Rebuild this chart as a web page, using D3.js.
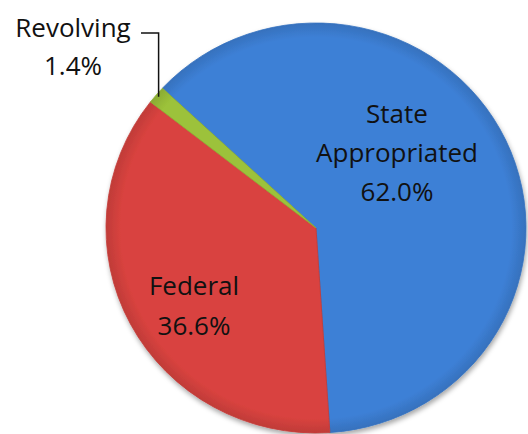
<!DOCTYPE html>
<html>
<head>
<meta charset="utf-8">
<script src="https://cdn.jsdelivr.net/npm/d3@7"></script>
<style>
  html, body { margin: 0; padding: 0; background: #fff; }
  svg { display: block; }
</style>
</head>
<body>
<div id="chart"></div>
<script>
var categories = ["State Appropriated", "Federal", "Revolving"];
var values = [62.0, 36.6, 1.4];
var labelLines = [["State", "Appropriated", "62.0%"], ["Federal", "36.6%"], ["Revolving", "1.4%"]];
var colors = ["#3d80d6", "#d9433f", "#9cc23a"];

var width = 528, height = 434;
var cx = 316, cy = 228, radius = 205, stretchX = 210 / 205;

var svg = d3.select("#chart").append("svg")
    .attr("width", width)
    .attr("height", height);

var defs = svg.append("defs");

var shadow = defs.append("filter")
    .attr("id", "shadow")
    .attr("x", "-10%").attr("y", "-10%")
    .attr("width", "120%").attr("height", "120%");
shadow.append("feDropShadow")
    .attr("dx", 1).attr("dy", 3)
    .attr("stdDeviation", 2.5)
    .attr("flood-color", "#000")
    .attr("flood-opacity", 0.35);

// soft bevel-like shading per slice
colors.forEach(function (c, i) {
    var g = defs.append("radialGradient")
        .attr("id", "grad" + i)
        .attr("gradientUnits", "userSpaceOnUse")
        .attr("cx", 0).attr("cy", 0).attr("r", radius);
    g.append("stop").attr("offset", "0%").attr("stop-color", c);
    g.append("stop").attr("offset", "93%").attr("stop-color", c);
    g.append("stop").attr("offset", "100%").attr("stop-color", d3.color(c).darker(0.35));
});

var startDeg = -47;
var pie = d3.pie()
    .sort(null)
    .value(function (d) { return d; })
    .startAngle(startDeg * Math.PI / 180)
    .endAngle((startDeg + 360) * Math.PI / 180);

var arc = d3.arc()
    .innerRadius(0)
    .outerRadius(radius);

var g = svg.append("g")
    .attr("transform", "translate(" + cx + "," + cy + ") scale(" + stretchX + ",1)");

g.append("g")
    .attr("filter", "url(#shadow)")
    .selectAll("path")
    .data(pie(values))
    .enter()
    .append("path")
    .attr("d", arc)
    .attr("fill", function (d, i) { return "url(#grad" + i + ")"; })
    .attr("stroke", function (d, i) { return d3.color(colors[i]).darker(0.3); })
    .attr("stroke-width", 0.8)
    .attr("stroke-linejoin", "round");

// label positions (page coords of first baseline) and line spacing
var labelPos = [
    { x: 397, y: 123, dy: 39 },
    { x: 194, y: 295, dy: 40 },
    { x: 73, y: 37, dy: 38 }
];

var labels = svg.append("g")
    .attr("font-family", "'Open Sans', 'Noto Sans', sans-serif")
    .attr("font-size", "26px")
    .attr("fill", "#111")
    .attr("text-anchor", "middle");

labelLines.forEach(function (lines, i) {
    var t = labels.append("text")
        .attr("x", labelPos[i].x)
        .attr("y", labelPos[i].y);
    lines.forEach(function (line, j) {
        t.append("tspan")
            .attr("x", labelPos[i].x)
            .attr("dy", j === 0 ? 0 : labelPos[i].dy)
            .text(line);
    });
});

// leader line for the small slice
var small = pie(values)[2];
var mid = (small.startAngle + small.endAngle) / 2;
var edge = [cx + Math.sin(mid) * (radius - 3) * stretchX, cy - Math.cos(mid) * (radius - 3)];
svg.append("path")
    .attr("d", d3.line()([[141, 33], [edge[0], 33], edge]))
    .attr("fill", "none")
    .attr("stroke", "#111")
    .attr("stroke-width", 1.5);
</script>
</body>
</html>
